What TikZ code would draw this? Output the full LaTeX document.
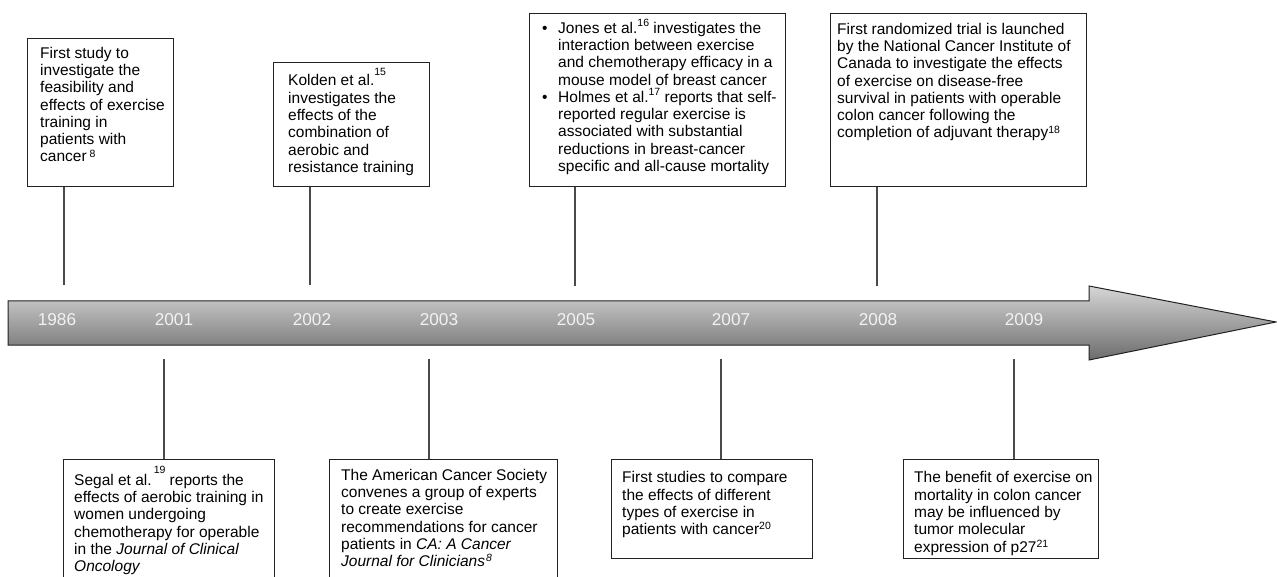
\documentclass[tikz,border=0pt]{standalone}
\usepackage{fontspec}
\setmainfont{Liberation Sans}
\definecolor{boxline}{HTML}{222222}
\definecolor{connc}{HTML}{4A4A4A}
\definecolor{bartop}{RGB}{214,214,214}
\definecolor{barbot}{RGB}{108,108,108}
\newcommand\sref[2]{\raisebox{#1}{\fontsize{10.5pt}{10.5pt}\selectfont #2}}
\newcommand\fstrut{\rule{0pt}{20pt}}
\newcommand\bul{\makebox[16pt][l]{\textbullet}}
\newcommand\ind{\hspace*{16pt}}
\tikzset{
  tbox/.style={draw=boxline, line width=1.1pt, fill=white, anchor=north west, inner sep=0pt, rectangle},
  txt/.style={anchor=north west, inner sep=0pt, align=left, font=\fontsize{15.5pt}{17.3pt}\selectfont},
  conn/.style={draw=connc, line width=1.2pt},
  yr/.style={anchor=base, inner sep=0pt, text=white!95!black, font=\fontsize{17.2pt}{17.2pt}\selectfont},
  barstyle/.style={draw=boxline, line width=1pt, top color=bartop, bottom color=barbot},
}
\begin{document}
\begin{tikzpicture}[x=1pt,y=1pt]
\useasboundingbox (0,0) rectangle (1277,-577);
\fill[white] (0,0) rectangle (1277,-577);
\clip (0,0) rectangle (1277,-577);

% timeline arrow
\draw[barstyle] (8,-301) -- (1089,-301) -- (1089,-286) -- (1276,-322) -- (1089,-360) -- (1089,-345) -- (8,-345) -- cycle;

% years
\node[yr] (y1986) at (57,-326) {1986};
\node[yr] (y2001) at (174,-326) {2001};
\node[yr] (y2002) at (312,-326) {2002};
\node[yr] (y2003) at (439,-326) {2003};
\node[yr] (y2005) at (576,-326) {2005};
\node[yr] (y2007) at (731,-326) {2007};
\node[yr] (y2008) at (878,-326) {2008};
\node[yr] (y2009) at (1024,-326) {2009};

% boxes above
\node[tbox, minimum width=146pt, minimum height=148pt] (b1) at (27,-38) {};
\node[tbox, minimum width=156pt, minimum height=124pt] (b2) at (273,-62) {};
\node[tbox, minimum width=256pt, minimum height=173pt] (b3) at (529,-13) {};
\node[tbox, minimum width=256pt, minimum height=173pt] (b4) at (830,-13) {};

% boxes below
\node[tbox, minimum width=211pt, minimum height=140pt] (b5) at (63,-459) {};
\node[tbox, minimum width=228pt, minimum height=140pt] (b6) at (329,-459) {};
\node[tbox, minimum width=201pt, minimum height=99pt] (b7) at (611,-459) {};
\node[tbox, minimum width=195pt, minimum height=99pt] (b8) at (903,-459) {};

% texts
\node[txt] (t1) at (40,-38) {\fstrut First study to\\ investigate the\\ feasibility and\\ effects of exercise\\ training in\\ patients with\\ cancer\kern3pt\sref{4.5pt}{8}};
\node[txt] (t2) at (288,-65.7) {\fstrut Kolden et al.\sref{10.5pt}{15}\\ investigates the\\ effects of the\\ combination of\\ aerobic and\\ resistance training};
\node[txt] (t3) at (542,-13) {\fstrut\bul Jones et al.\sref{6.5pt}{16} investigates the\\ \ind interaction between exercise\\ \ind and chemotherapy efficacy in a\\ \ind mouse model of breast cancer\\ \bul Holmes et al.\sref{6.5pt}{17} reports that self-\\ \ind reported regular exercise is\\ \ind associated with substantial\\ \ind reductions in breast-cancer\\ \ind specific and all-cause mortality};
\node[txt] (t4) at (837,-14) {\fstrut First randomized trial is launched\\ by the National Cancer Institute of\\ Canada to investigate the effects\\ of exercise on disease-free\\ survival in patients with operable\\ colon cancer following the\\ completion of adjuvant therapy\sref{4pt}{18}};
\node[txt] (t5) at (74,-465) {\fstrut Segal et al.\kern2pt\sref{12pt}{19} reports the\\ effects of aerobic training in\\ women undergoing\\ chemotherapy for operable\\ in the \textit{Journal of Clinical}\\ \textit{Oncology}};
\node[txt] (t6) at (341,-460) {\fstrut The American Cancer Society\\ convenes a group of experts\\ to create exercise\\ recommendations for cancer\\ patients in \textit{CA: A Cancer}\\ \textit{Journal for Clinicians}\kern1pt\sref{5.5pt}{\textit{8}}};
\node[txt] (t7) at (622,-462.7) {\fstrut First studies to compare\\ the effects of different\\ types of exercise in\\ patients with cancer\sref{5pt}{20}};
\node[txt] (t8) at (914,-462.7) {\fstrut The benefit of exercise on\\ mortality in colon cancer\\ may be influenced by\\ tumor molecular\\ expression of p27\sref{5pt}{21}};

% connectors
\coordinate (k1) at (64,-285);
\coordinate (k2) at (310,-285);
\coordinate (k3) at (575,-286);
\coordinate (k4) at (877,-286);
\coordinate (k5) at (164,-359);
\coordinate (k6) at (429,-359);
\coordinate (k7) at (721,-359);
\coordinate (k8) at (1014,-359);
\draw[conn] (b1.south -| k1) -- (k1);
\draw[conn] (b2.south -| k2) -- (k2);
\draw[conn] (b3.south -| k3) -- (k3);
\draw[conn] (b4.south -| k4) -- (k4);
\draw[conn] (k5) -- (b5.north -| k5);
\draw[conn] (k6) -- (b6.north -| k6);
\draw[conn] (k7) -- (b7.north -| k7);
\draw[conn] (k8) -- (b8.north -| k8);
\end{tikzpicture}
\end{document}
